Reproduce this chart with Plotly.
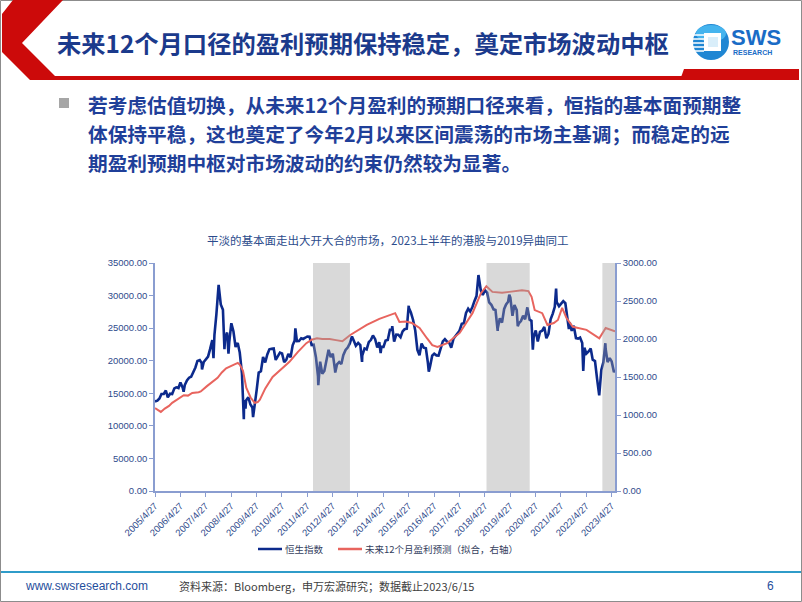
import plotly.graph_objects as go

W, H = 802, 602

def px(x):
    return x / W

def py(y):
    return 1 - y / H

# ---------------- data ----------------
hsi_dates = [
    "2005-04-27", "2005-05-31", "2005-06-30", "2005-07-29", "2005-08-31", "2005-09-30", "2005-10-28", "2005-11-30", "2005-12-30",
    "2006-01-31", "2006-02-28", "2006-03-31", "2006-04-28", "2006-05-31", "2006-06-13", "2006-06-30", "2006-07-31", "2006-08-31",
    "2006-09-29", "2006-10-31", "2006-11-30", "2006-12-29",
    "2007-01-31", "2007-02-28", "2007-03-05", "2007-03-30", "2007-04-30", "2007-05-31", "2007-06-29", "2007-07-31", "2007-08-17",
    "2007-08-31", "2007-09-28", "2007-10-30", "2007-11-30", "2007-12-31",
    "2008-01-22", "2008-01-31", "2008-02-29", "2008-03-20", "2008-03-31", "2008-04-30", "2008-05-30", "2008-06-30", "2008-07-31",
    "2008-08-29", "2008-09-30", "2008-10-27", "2008-10-31", "2008-11-20", "2008-11-28", "2008-12-31",
    "2009-01-30", "2009-02-27", "2009-03-09", "2009-03-31", "2009-04-30", "2009-05-29", "2009-06-30", "2009-07-31", "2009-08-31",
    "2009-09-30", "2009-10-30", "2009-11-30", "2009-12-31",
    "2010-01-29", "2010-02-26", "2010-03-31", "2010-04-30", "2010-05-31", "2010-06-30", "2010-07-30", "2010-08-31", "2010-09-30",
    "2010-10-29", "2010-11-08", "2010-11-30", "2010-12-31",
    "2011-01-31", "2011-02-28", "2011-03-31", "2011-04-29", "2011-05-31", "2011-06-30", "2011-07-29", "2011-08-31", "2011-09-30",
    "2011-10-04", "2011-10-31", "2011-11-30", "2011-12-30",
    "2012-01-31", "2012-02-29", "2012-03-30", "2012-04-30", "2012-05-31", "2012-06-04", "2012-06-29", "2012-07-31", "2012-08-31",
    "2012-09-28", "2012-10-31", "2012-11-30", "2012-12-31",
    "2013-01-31", "2013-02-28", "2013-03-28", "2013-04-30", "2013-05-31", "2013-06-25", "2013-06-28", "2013-07-31", "2013-08-30",
    "2013-09-30", "2013-10-31", "2013-11-29", "2013-12-31",
    "2014-01-30", "2014-02-28", "2014-03-20", "2014-03-31", "2014-04-30", "2014-05-30", "2014-06-30", "2014-07-31", "2014-08-29",
    "2014-09-03", "2014-09-30", "2014-10-31", "2014-11-28", "2014-12-31",
    "2015-01-30", "2015-02-27", "2015-03-31", "2015-04-28", "2015-04-30", "2015-05-29", "2015-06-30", "2015-07-31", "2015-08-31",
    "2015-09-30", "2015-10-30", "2015-11-30", "2015-12-31",
    "2016-01-29", "2016-02-11", "2016-02-29", "2016-03-31", "2016-04-29", "2016-05-31", "2016-06-30", "2016-07-29", "2016-08-31",
    "2016-09-30", "2016-10-31", "2016-11-30", "2016-12-30",
    "2017-01-31", "2017-02-28", "2017-03-31", "2017-04-28", "2017-05-31", "2017-06-30", "2017-07-31", "2017-08-31", "2017-09-29",
    "2017-10-31", "2017-11-30", "2017-12-29",
    "2018-01-26", "2018-01-31", "2018-02-28", "2018-03-29", "2018-04-30", "2018-05-31", "2018-06-29", "2018-07-31", "2018-08-31",
    "2018-09-28", "2018-10-30", "2018-10-31", "2018-11-30", "2018-12-31",
    "2019-01-31", "2019-02-28", "2019-03-29", "2019-04-15", "2019-04-30", "2019-05-31", "2019-06-28", "2019-07-31", "2019-08-15",
    "2019-08-30", "2019-09-30", "2019-10-31", "2019-11-29", "2019-12-31",
    "2020-01-31", "2020-02-28", "2020-03-19", "2020-03-31", "2020-04-30", "2020-05-29", "2020-06-30", "2020-07-31", "2020-08-31",
    "2020-09-30", "2020-10-30", "2020-11-30", "2020-12-31",
    "2021-01-29", "2021-02-17", "2021-02-26", "2021-03-31", "2021-04-30", "2021-05-31", "2021-06-30", "2021-07-30", "2021-08-20",
    "2021-08-31", "2021-09-30", "2021-10-29", "2021-11-30", "2021-12-31",
    "2022-01-28", "2022-02-28", "2022-03-15", "2022-03-31", "2022-04-29", "2022-05-31", "2022-06-30", "2022-07-29", "2022-08-31",
    "2022-09-30", "2022-10-31", "2022-11-30", "2022-12-30",
    "2023-01-27", "2023-01-31", "2023-02-28", "2023-03-31", "2023-04-28", "2023-05-31", "2023-06-15",
]
hsi_values = [
    13750, 13867, 14201, 14880, 14903, 15429, 14386, 14937, 14876,
    15753, 15918, 15805, 16661, 15857, 15234, 16267, 16971, 17392,
    17543, 18324, 18960, 19965,
    20107, 19652, 18665, 19801, 20319, 20635, 21773, 23185, 20387,
    23984, 27142, 31638, 28643, 27813,
    21757, 23456, 24332, 21084, 22849, 25755, 24533, 22102, 22731,
    21262, 18016, 11016, 13969, 12659, 13888, 14387,
    13278, 12812, 11345, 13576, 15521, 18171, 18379, 20573, 19724,
    20955, 21753, 21822, 21873,
    20122, 20609, 21239, 21108, 19765, 20129, 21030, 20537, 22358,
    23096, 24964, 23008, 23035,
    23447, 23338, 23528, 23720, 23684, 22398, 22440, 20535, 17592,
    16250, 19864, 17989, 18434,
    20390, 21680, 20556, 21094, 18630, 18185, 19441, 19796, 19482,
    20840, 21642, 22030, 22657,
    23730, 23020, 22300, 22737, 22392, 19814, 20803, 21883, 21731,
    22860, 23206, 23881, 23306,
    22035, 22837, 21182, 22151, 22134, 23082, 23190, 24757, 24742,
    25318, 22933, 23998, 23987, 23605,
    24507, 24823, 24901, 28442, 28133, 27424, 26250, 24636, 21671,
    20846, 22640, 21996, 21914,
    19683, 18320, 19112, 20777, 21067, 20815, 20794, 21891, 22977,
    23297, 22935, 22790, 22001,
    23361, 23741, 24112, 24615, 25661, 25765, 27324, 27970, 27554,
    28246, 29177, 29919,
    33154, 32887, 30845, 30093, 30808, 30469, 28955, 28583, 27889,
    27789, 24586, 24980, 26507, 25846,
    27942, 28633, 29051, 30130, 29699, 26901, 28543, 27778, 25302,
    25725, 26092, 26907, 26346, 28190,
    26313, 26130, 21709, 23603, 24644, 22961, 24427, 24595, 25177,
    23459, 24107, 26341, 27231,
    28284, 31085, 28980, 28378, 28725, 29152, 28828, 25961, 24849,
    25879, 24576, 25377, 23475, 23398,
    23550, 22713, 18415, 21997, 21089, 21415, 21860, 20157, 19954,
    17223, 14687, 18597, 19781,
    22689, 21842, 19786, 20400, 19895, 18234, 18600,
]

fwd_dates = [
    "2005-04-27", "2005-06-15", "2005-07-20", "2005-09-15", "2005-11-15", "2005-12-30", "2006-03-15", "2006-06-15",
    "2006-08-15", "2006-10-15", "2007-01-15", "2007-02-15", "2007-05-15", "2007-08-01", "2007-10-15", "2007-12-15",
    "2008-02-15", "2008-04-15", "2008-06-01", "2008-08-01", "2008-09-01", "2008-10-15", "2008-12-01", "2009-02-01",
    "2009-04-01", "2009-05-15", "2009-06-15", "2009-09-01", "2009-12-15", "2010-04-15", "2010-08-15", "2010-12-15",
    "2011-04-15", "2011-07-01", "2011-09-15", "2011-12-01", "2012-03-15", "2012-06-15", "2012-09-15", "2013-01-01",
    "2013-05-01", "2013-09-01", "2014-03-01", "2014-07-01", "2014-10-15", "2014-12-15", "2015-03-15", "2015-06-15",
    "2015-10-01", "2016-01-15", "2016-04-01", "2016-06-15", "2016-11-01", "2017-05-01", "2017-11-01", "2018-03-01",
    "2018-05-20", "2018-08-15", "2019-01-01", "2019-04-15", "2019-10-15", "2020-01-15", "2020-03-01", "2020-04-15",
    "2020-08-01", "2020-10-15", "2021-01-15", "2021-03-15", "2021-05-15", "2021-07-15", "2021-10-15", "2022-05-01",
    "2022-11-01", "2023-02-01", "2023-05-01", "2023-06-15",
]
fwd_values = [
    1090, 1060, 1040, 1085, 1120, 1160, 1200, 1260,
    1255, 1290, 1300, 1310, 1380, 1430, 1490, 1560,
    1615, 1640, 1660, 1685, 1660, 1580, 1360, 1230,
    1160, 1170, 1200, 1350, 1500, 1600, 1700, 1830,
    1945, 1990, 2010, 2000, 2000, 1985, 1970, 2050,
    2120, 2185, 2265, 2300, 2340, 2225, 2230, 2210,
    2145, 2010, 1920, 1895, 1945, 2080, 2340, 2600,
    2695, 2620, 2610, 2620, 2640, 2630, 2555, 2380,
    2340, 2185, 2210, 2250, 2410, 2280, 2160, 2120,
    2010, 2145, 2120, 2100,
]

tick_dates = ["%d-04-27" % y for y in range(2005, 2024)]
tick_labels = ["%d/4/27" % y for y in range(2005, 2024)]
left_ticks = [0, 5000, 10000, 15000, 20000, 25000, 30000, 35000]
right_ticks = [0, 500, 1000, 1500, 2000, 2500, 3000]
shade_starts = ["2011-07-20", "2018-05-22", "2022-12-15"]
shade_ends = ["2013-01-02", "2020-02-03", "2023-06-15"]

x_start, x_end = "2005-04-27", "2023-06-15"

series_names = ["恒生指数", "未来12个月盈利预测（拟合，右轴）"]
chart_title = "平淡的基本面走出大开大合的市场，2023上半年的港股与2019异曲同工"
slide_title = "未来12个月口径的盈利预期保持稳定，奠定市场波动中枢"
bullet_lines = [
    "若考虑估值切换，从未来12个月盈利的预期口径来看，恒指的基本面预期整",
    "体保持平稳，这也奠定了今年2月以来区间震荡的市场主基调；而稳定的远",
    "期盈利预期中枢对市场波动的约束仍然较为显著。",
]

BLUE = "#0c2a8c"
RED = "#e8645e"
AXIS = "#8a9dd0"
TICKC = "#2f4b8c"
NUMFONT = "Liberation Sans, Arial, sans-serif"
CJK = "Noto Sans CJK SC, sans-serif"

fig = go.Figure()
fig.add_trace(go.Scatter(x=hsi_dates, y=hsi_values, mode="lines", name=series_names[0],
                         line=dict(color=BLUE, width=2.6), yaxis="y", showlegend=False))
fig.add_trace(go.Scatter(x=fwd_dates, y=fwd_values, mode="lines", name=series_names[1],
                         line=dict(color=RED, width=2), yaxis="y2", showlegend=False))

shapes = []
# shaded periods (above lines, translucent)
for s, e in zip(shade_starts, shade_ends):
    shapes.append(dict(type="rect", xref="x", yref="y domain", x0=s, x1=e, y0=0, y1=1,
                       fillcolor="rgba(160,160,160,0.4)", line=dict(width=0), layer="above"))

def path(points):
    return "M " + " L ".join("%.5f,%.5f" % (px(a), py(b)) for a, b in points) + " Z"

# slide frame
shapes.append(dict(type="rect", xref="paper", yref="paper", x0=px(0.5), x1=px(801.5), y0=py(601.5), y1=py(0.5),
                   line=dict(color="#8c8c8c", width=1), fillcolor="rgba(0,0,0,0)", layer="above"))
# red chevron and header underline
shapes.append(dict(type="path", xref="paper", yref="paper",
                   path=path([(13, 0), (63, 0), (22, 43), (55, 76), (684, 76), (684, 80), (30, 80), (2, 52), (2, 14)]),
                   fillcolor="#cc0a0a", line=dict(width=0)))
shapes.append(dict(type="path", xref="paper", yref="paper",
                   path=path([(684, 69), (799, 69), (799, 80), (680, 80)]),
                   fillcolor="#cc0a0a", line=dict(width=0)))
# logo
shapes.append(dict(type="circle", xref="paper", yref="paper", x0=px(693), x1=px(729), y0=py(60), y1=py(24),
                   fillcolor="#1f86d3", line=dict(width=0)))
shapes.append(dict(type="circle", xref="paper", yref="paper", x0=px(696), x1=px(726), y0=py(42), y1=py(25),
                   fillcolor="#45b4ee", line=dict(width=0)))
shapes.append(dict(type="rect", xref="paper", yref="paper", x0=px(704), x1=px(721), y0=py(51), y1=py(33),
                   fillcolor="white", line=dict(width=0)))
shapes.append(dict(type="rect", xref="paper", yref="paper", x0=px(708), x1=px(718), y0=py(47), y1=py(37),
                   fillcolor="#d9eefa", line=dict(width=0)))
for yy in [35, 39, 43, 47, 51]:
    shapes.append(dict(type="line", xref="paper", yref="paper", x0=px(693), x1=px(704), y0=py(yy), y1=py(yy),
                       line=dict(color="white", width=1.5)))
# bullet square
shapes.append(dict(type="rect", xref="paper", yref="paper", x0=px(59), x1=px(69), y0=py(108), y1=py(98),
                   fillcolor="#a6a6a6", line=dict(width=0)))
# custom legend lines
shapes.append(dict(type="line", xref="paper", yref="paper", x0=px(258), x1=px(282), y0=py(549), y1=py(549),
                   line=dict(color=BLUE, width=2.5)))
shapes.append(dict(type="line", xref="paper", yref="paper", x0=px(338), x1=px(362), y0=py(549), y1=py(549),
                   line=dict(color=RED, width=2.5)))
# footer line
shapes.append(dict(type="line", xref="paper", yref="paper", x0=px(1), x1=px(801), y0=py(572), y1=py(572),
                   line=dict(color="#2f9cc9", width=2)))

annotations = []

def ann(text, x, y, size, color, xanchor="left", family=CJK):
    annotations.append(dict(text=text, x=px(x), y=py(y), xref="paper", yref="paper", xanchor=xanchor,
                            yanchor="middle", showarrow=False, font=dict(size=size, color=color, family=family)))

ann("<b>" + slide_title + "</b>", 55, 43, 24.3, "#1b3a8c")
ann("<b>SWS</b>", 729, 38, 22, "#1a6cc6", family="Liberation Sans, Arial")
ann("<b>RESEARCH</b>", 731, 52, 7, "#1a6cc6", family="Liberation Sans, Arial")
for i, line in enumerate(bullet_lines):
    ann("<b>" + line + "</b>", 86, 104 + i * 29.5, 19.7, "#1f3f99")
ann(chart_title, 388, 240, 11.5, "#2b4b8c", xanchor="center")
ann(series_names[0], 283, 549, 9.5, "#34405e")
ann(series_names[1], 363, 549, 9.5, "#34405e")
ann("www.swsresearch.com", 23, 586, 12, "#1f4e9c", family="Liberation Sans, Arial")
ann("资料来源：Bloomberg，申万宏源研究；数据截止2023/6/15", 177, 586, 11, "#404040")
ann("6", 765, 586, 12, "#1f4e9c", family="Liberation Sans, Arial")

fig.update_layout(
    template="none",
    width=W, height=H,
    margin=dict(l=0, r=0, t=0, b=0, pad=0),
    paper_bgcolor="white", plot_bgcolor="white",
    font=dict(family=NUMFONT, size=10, color=TICKC),
    showlegend=False,
    xaxis=dict(type="date", domain=[px(155), px(615)], range=[x_start, x_end], anchor="y",
               tickmode="array", tickvals=tick_dates, ticktext=tick_labels, tickangle=-45,
               tickfont=dict(size=9.5, color=TICKC, family=NUMFONT),
               showline=True, linecolor=AXIS, linewidth=1.5, ticks="outside", ticklen=4, tickcolor=AXIS,
               showgrid=False, zeroline=False, automargin=False),
    yaxis=dict(domain=[py(491), py(263)], range=[0, 35000], anchor="x",
               tickmode="array", tickvals=left_ticks, ticktext=["%.2f" % v for v in left_ticks],
               tickfont=dict(size=9.5, color=TICKC, family=NUMFONT),
               showline=True, linecolor=AXIS, linewidth=1.5, ticks="outside", ticklen=4, tickcolor=AXIS,
               showgrid=False, zeroline=False, automargin=False),
    yaxis2=dict(overlaying="y", side="right", range=[0, 3000], anchor="x",
                tickmode="array", tickvals=right_ticks, ticktext=["%.2f" % v for v in right_ticks],
                tickfont=dict(size=9.5, color=TICKC, family=NUMFONT),
                showline=True, linecolor=AXIS, linewidth=1.5, ticks="outside", ticklen=4, tickcolor=AXIS,
                showgrid=False, zeroline=False, automargin=False),
    shapes=shapes,
    annotations=annotations,
)

fig.write_html("out.html", config={"displayModeBar": False},
               post_script="document.body.style.margin='0';document.body.style.overflow='hidden';")
